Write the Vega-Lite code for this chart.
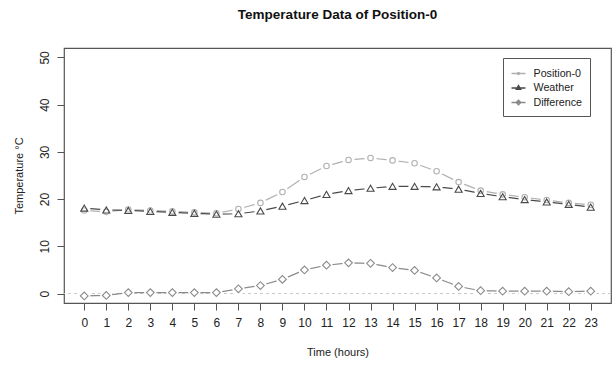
{
  "$schema": "https://vega.github.io/schema/vega-lite/v6.json",
  "width": 547,
  "height": 255,
  "autosize": {"type": "none"},
  "padding": {"left": 64, "top": 48, "right": 2, "bottom": 62},
  "background": "white",
  "config": {
    "font": "Liberation Sans",
    "view": {"stroke": "#555555", "strokeWidth": 1.2},
    "axis": {"grid": false, "domain": false, "tickColor": "#555555", "tickSize": 7, "labelColor": "#222222", "labelFontSize": 12, "titleColor": "#222222", "titleFontSize": 11, "titleFontWeight": "normal"},
    "legend": {"orient": "none", "legendX": 439, "legendY": 10, "strokeColor": "#555555", "padding": 7.5, "labelFontSize": 10.7, "labelColor": "#222222", "labelOffset": 7, "symbolStrokeWidth": 1.4, "symbolSize": 196, "rowPadding": 1.5}
  },
  "title": {"text": "Temperature Data of Position-0", "fontSize": 13.5, "fontWeight": "bold", "color": "#111111", "offset": 27, "anchor": "middle"},
  "data": {"values": [
    {"hour": 0, "series": "Position-0", "value": 17.6}, {"hour": 1, "series": "Position-0", "value": 17.3}, {"hour": 2, "series": "Position-0", "value": 17.8}, {"hour": 3, "series": "Position-0", "value": 17.6}, {"hour": 4, "series": "Position-0", "value": 17.4}, {"hour": 5, "series": "Position-0", "value": 17.2}, {"hour": 6, "series": "Position-0", "value": 17.0}, {"hour": 7, "series": "Position-0", "value": 17.9}, {"hour": 8, "series": "Position-0", "value": 19.2}, {"hour": 9, "series": "Position-0", "value": 21.5}, {"hour": 10, "series": "Position-0", "value": 24.7}, {"hour": 11, "series": "Position-0", "value": 27.0}, {"hour": 12, "series": "Position-0", "value": 28.3}, {"hour": 13, "series": "Position-0", "value": 28.7}, {"hour": 14, "series": "Position-0", "value": 28.2}, {"hour": 15, "series": "Position-0", "value": 27.6}, {"hour": 16, "series": "Position-0", "value": 25.9}, {"hour": 17, "series": "Position-0", "value": 23.6}, {"hour": 18, "series": "Position-0", "value": 21.8}, {"hour": 19, "series": "Position-0", "value": 21.0}, {"hour": 20, "series": "Position-0", "value": 20.4}, {"hour": 21, "series": "Position-0", "value": 19.8}, {"hour": 22, "series": "Position-0", "value": 19.2}, {"hour": 23, "series": "Position-0", "value": 18.8},
    {"hour": 0, "series": "Weather", "value": 18.1}, {"hour": 1, "series": "Weather", "value": 17.7}, {"hour": 2, "series": "Weather", "value": 17.6}, {"hour": 3, "series": "Weather", "value": 17.4}, {"hour": 4, "series": "Weather", "value": 17.2}, {"hour": 5, "series": "Weather", "value": 17.0}, {"hour": 6, "series": "Weather", "value": 16.8}, {"hour": 7, "series": "Weather", "value": 16.9}, {"hour": 8, "series": "Weather", "value": 17.5}, {"hour": 9, "series": "Weather", "value": 18.5}, {"hour": 10, "series": "Weather", "value": 19.7}, {"hour": 11, "series": "Weather", "value": 21.0}, {"hour": 12, "series": "Weather", "value": 21.8}, {"hour": 13, "series": "Weather", "value": 22.3}, {"hour": 14, "series": "Weather", "value": 22.7}, {"hour": 15, "series": "Weather", "value": 22.7}, {"hour": 16, "series": "Weather", "value": 22.6}, {"hour": 17, "series": "Weather", "value": 22.1}, {"hour": 18, "series": "Weather", "value": 21.2}, {"hour": 19, "series": "Weather", "value": 20.5}, {"hour": 20, "series": "Weather", "value": 19.9}, {"hour": 21, "series": "Weather", "value": 19.4}, {"hour": 22, "series": "Weather", "value": 18.9}, {"hour": 23, "series": "Weather", "value": 18.3},
    {"hour": 0, "series": "Difference", "value": -0.5}, {"hour": 1, "series": "Difference", "value": -0.4}, {"hour": 2, "series": "Difference", "value": 0.2}, {"hour": 3, "series": "Difference", "value": 0.2}, {"hour": 4, "series": "Difference", "value": 0.2}, {"hour": 5, "series": "Difference", "value": 0.2}, {"hour": 6, "series": "Difference", "value": 0.2}, {"hour": 7, "series": "Difference", "value": 1.0}, {"hour": 8, "series": "Difference", "value": 1.7}, {"hour": 9, "series": "Difference", "value": 3.0}, {"hour": 10, "series": "Difference", "value": 5.0}, {"hour": 11, "series": "Difference", "value": 6.0}, {"hour": 12, "series": "Difference", "value": 6.5}, {"hour": 13, "series": "Difference", "value": 6.4}, {"hour": 14, "series": "Difference", "value": 5.5}, {"hour": 15, "series": "Difference", "value": 4.9}, {"hour": 16, "series": "Difference", "value": 3.3}, {"hour": 17, "series": "Difference", "value": 1.5}, {"hour": 18, "series": "Difference", "value": 0.6}, {"hour": 19, "series": "Difference", "value": 0.5}, {"hour": 20, "series": "Difference", "value": 0.5}, {"hour": 21, "series": "Difference", "value": 0.5}, {"hour": 22, "series": "Difference", "value": 0.4}, {"hour": 23, "series": "Difference", "value": 0.5}
  ]},
  "encoding": {
    "x": {"field": "hour", "type": "quantitative", "scale": {"domain": [-0.92, 23.92], "nice": false, "zero": false}, "axis": {"values": [0,1,2,3,4,5,6,7,8,9,10,11,12,13,14,15,16,17,18,19,20,21,22,23], "title": "Time (hours)", "labelPadding": 7, "titlePadding": 18}},
    "y": {"field": "value", "type": "quantitative", "scale": {"domain": [-2, 52], "nice": false, "zero": false}, "axis": {"values": [0,10,20,30,40,50], "title": "Temperature °C", "labelAngle": -90, "labelAlign": "center", "labelBaseline": "bottom", "labelPadding": 6, "titlePadding": 14}}
  },
  "layer": [
    {"mark": {"type": "rule", "color": "#c8c8c8", "strokeDash": [3, 3], "strokeWidth": 1}, "data": {"values": [{"y0": 0}]}, "encoding": {"y": {"field": "y0", "type": "quantitative"}, "x": null}},
    {"mark": {"type": "line", "strokeWidth": 1.2}, "encoding": {"detail": {"field": "series"}, "color": {"field": "series", "type": "nominal", "scale": {"domain": ["Position-0", "Weather", "Difference"], "range": ["#b0b0b0", "#4a4a4a", "#8a8a8a"]}, "legend": {"title": null, "symbolSize": 196, "encode": {"symbols": {"update": {
         "shape": {"signal": "datum.value === 'Position-0' ? 'M-1,0H-0.14M0.14,0H1M-0.14,0A0.14,0.14,0,1,1,0.14,0A0.14,0.14,0,1,1,-0.14,0Z' : (datum.value === 'Weather' ? 'M-1,0H1M0,-0.32L0.3,0.18L-0.3,0.18Z' : 'M-1,0H1M0,-0.32L0.32,0L0,0.32L-0.32,0Z')"},
         "stroke": {"signal": "datum.value === 'Position-0' ? '#999999' : (datum.value === 'Weather' ? '#111111' : '#444444')"},
         "fill": {"signal": "datum.value === 'Position-0' ? '#999999' : (datum.value === 'Weather' ? '#111111' : 'transparent')"},
         "size": {"value": 196},
         "strokeWidth": {"value": 1.5}
       }}}}}}},
    {"mark": {"type": "point", "filled": true, "opacity": 1, "size": 150, "color": "white"}, "encoding": {"detail": {"field": "series"}}},
    {"mark": {"type": "point", "filled": false, "opacity": 1, "strokeWidth": 1.1},
     "encoding": {
       "color": {"field": "series", "type": "nominal", "legend": null},
       "shape": {"condition": [{"test": "datum.series === 'Weather'", "value": "triangle-up"}, {"test": "datum.series === 'Difference'", "value": "diamond"}], "value": "circle"},
       "size": {"condition": [{"test": "datum.series === 'Weather'", "value": 50}, {"test": "datum.series === 'Difference'", "value": 60}], "value": 30}
     }}
  ]
}
